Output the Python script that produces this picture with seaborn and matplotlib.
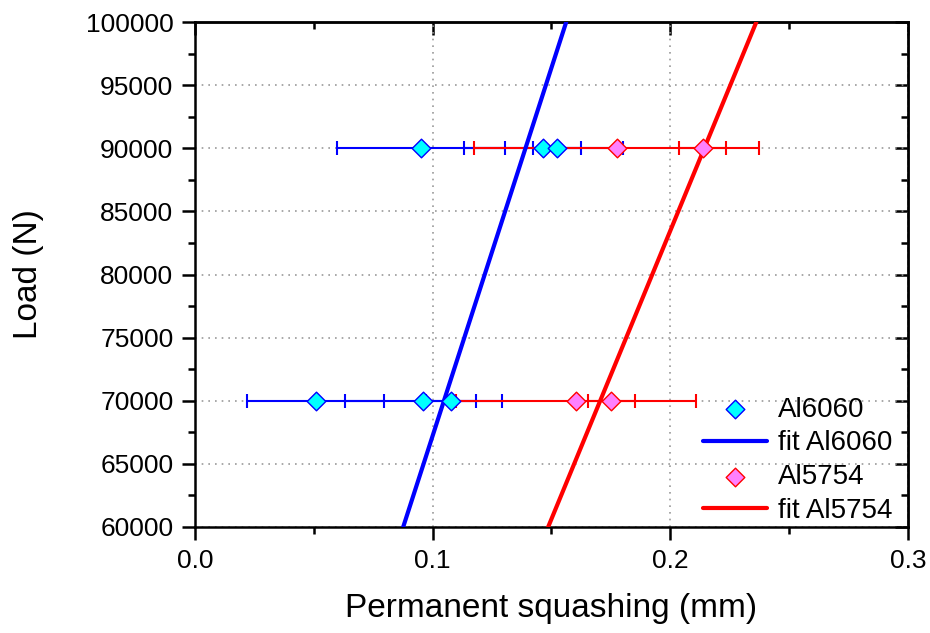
import numpy as np
import pandas as pd
import matplotlib
matplotlib.use('Agg')
import matplotlib.pyplot as plt
import seaborn as sns
from matplotlib.ticker import MultipleLocator

# measured points (load in N, permanent squashing in mm, +- error)
load_6060 = [90000, 90000, 90000, 70000, 70000, 70000]
sq_6060 = [0.0952, 0.1465, 0.1524, 0.0508, 0.0961, 0.1078]
err_6060 = [0.0353, 0.0335, 0.0100, 0.0288, 0.0329, 0.0104]

load_5754 = [90000, 90000, 70000, 70000]
sq_5754 = [0.1775, 0.2136, 0.1603, 0.1752]
err_5754 = [0.0600, 0.0100, 0.0506, 0.0100]

# linear fits, end points read at 60000 N and 100000 N
fit_load = [60000, 100000]
fit_6060 = [0.0876, 0.1562]
fit_5754 = [0.1486, 0.2362]

sns.set_theme(style='white')
plt.rcParams['font.family'] = ['Liberation Sans', 'DejaVu Sans']
plt.rcParams.update({'text.color': 'black', 'axes.labelcolor': 'black',
                     'xtick.color': 'black', 'ytick.color': 'black'})

df_pts = pd.concat([
    pd.DataFrame({'sq': sq_6060, 'load': load_6060, 'err': err_6060, 'alloy': 'Al6060'}),
    pd.DataFrame({'sq': sq_5754, 'load': load_5754, 'err': err_5754, 'alloy': 'Al5754'}),
])
df_fit = pd.concat([
    pd.DataFrame({'sq': fit_6060, 'load': fit_load, 'alloy': 'fit Al6060'}),
    pd.DataFrame({'sq': fit_5754, 'load': fit_load, 'alloy': 'fit Al5754'}),
])

fig, ax = plt.subplots(figsize=(9.3, 6.33), dpi=100)
fig.subplots_adjust(left=0.2097, right=0.9763, top=0.9652, bottom=0.1675)

ax.grid(True, which='major', color='#999999', linestyle=(0, (1, 3)), linewidth=1.2)
ax.set_axisbelow(True)

styles = {'Al6060': ('blue', '#00ffff'), 'Al5754': ('red', '#ff80ff')}
for alloy, (ec, fc) in styles.items():
    d = df_pts[df_pts['alloy'] == alloy]
    ax.errorbar(d['sq'], d['load'], xerr=d['err'], fmt='none', ecolor=ec,
                elinewidth=1.5, capsize=5, capthick=1.5, zorder=3)

line_colors = {'fit Al6060': 'blue', 'fit Al5754': 'red'}
for name, c in line_colors.items():
    sns.lineplot(data=df_fit[df_fit['alloy'] == name], x='sq', y='load', color=c,
                 linewidth=3, ax=ax, zorder=4, label=name)

for alloy, (ec, fc) in styles.items():
    sns.scatterplot(data=df_pts[df_pts['alloy'] == alloy], x='sq', y='load', marker='D',
                    s=90, color=fc, edgecolor=ec, linewidth=1.0, ax=ax, zorder=5, label=alloy)

ax.set_xlim(0, 0.3)
ax.set_ylim(60000, 100000)
ax.xaxis.set_major_locator(MultipleLocator(0.1))
ax.xaxis.set_minor_locator(MultipleLocator(0.05))
ax.yaxis.set_major_locator(MultipleLocator(5000))
ax.yaxis.set_minor_locator(MultipleLocator(2500))
ax.xaxis.set_major_formatter(matplotlib.ticker.FormatStrFormatter('%.1f'))

ax.tick_params(which='major', direction='out', length=9.5, width=1.8, labelsize=19,
               bottom=True, left=True, colors='black', pad=6)
ax.tick_params(which='minor', direction='out', length=5, width=1.8,
               bottom=True, left=True)
for sp in ax.spines.values():
    sp.set_linewidth(1.8)
    sp.set_color('black')

# mirrored inward ticks on top and right
top = ax.secondary_xaxis('top')
top.xaxis.set_major_locator(MultipleLocator(0.1))
top.xaxis.set_minor_locator(MultipleLocator(0.05))
top.tick_params(which='major', direction='in', length=9.5, width=1.8, labeltop=False)
top.tick_params(which='minor', direction='in', length=5, width=1.8)
top.spines['top'].set_linewidth(1.8)
right = ax.secondary_yaxis('right')
right.yaxis.set_major_locator(MultipleLocator(5000))
right.yaxis.set_minor_locator(MultipleLocator(2500))
right.tick_params(which='major', direction='in', length=9.5, width=1.8, labelright=False)
right.tick_params(which='minor', direction='in', length=5, width=1.8)
right.spines['right'].set_linewidth(1.8)

ax.set_xlabel('Permanent squashing (mm)', fontsize=24, labelpad=15)
ax.set_ylabel('Load (N)', fontsize=24, labelpad=30)

h, l = ax.get_legend_handles_labels()
order = ['Al6060', 'fit Al6060', 'Al5754', 'fit Al5754']
hd = dict(zip(l, h))
ax.legend([hd[k] for k in order], order, loc='lower right', frameon=False,
          bbox_to_anchor=(0.978, 0.006),
          fontsize=20, handlelength=2.3, labelspacing=0.28, borderaxespad=0.0,
          handletextpad=0.4, borderpad=0.0)

fig.savefig('out.png', dpi=100)
